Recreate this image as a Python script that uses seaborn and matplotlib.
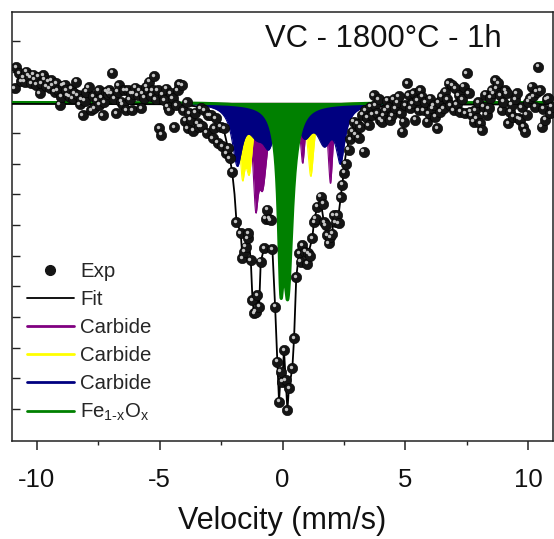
import numpy as np
import matplotlib
matplotlib.use("Agg")
import matplotlib.pyplot as plt
import matplotlib.transforms as mtransforms
from matplotlib.lines import Line2D
from matplotlib.ticker import MultipleLocator, FixedLocator, NullFormatter
import seaborn as sns

# ---------------------------------------------------------------- data
# Measured Mossbauer spectrum (velocity in mm/s, relative transmission)
exp_velocity = [
    -10.89, -10.825, -10.716, -10.62, -10.554, -10.486, -10.419, -10.33, -10.257, -10.216,
    -10.15, -10.081, -10.01, -9.946, -9.878, -9.81, -9.743, -9.675, -9.60, -9.54,
    -9.472, -9.405, -9.337, -9.269, -9.20, -9.134, -9.067, -9.00, -8.931, -8.86,
    -8.80, -8.729, -8.661, -8.59, -8.526, -8.46, -8.39, -8.323, -8.255, -8.19,
    -8.12, -8.05, -7.985, -7.877, -7.782, -7.71, -7.647, -7.55, -7.47, -7.444,
    -7.38, -7.309, -7.24, -7.173, -7.10, -7.038, -6.97, -6.93, -6.85, -6.768,
    -6.70, -6.66, -6.565, -6.497, -6.43, -6.362, -6.295, -6.22, -6.159, -6.119,
    -6.05, -5.983, -5.889, -5.82, -5.754, -5.686, -5.62, -5.551, -5.483, -5.416,
    -5.35, -5.28, -5.213, -5.15, -5.077, -5.01, -4.942, -4.87, -4.807, -4.74,
    -4.672, -4.604, -4.54, -4.469, -4.401, -4.33, -4.266, -4.199, -4.09, -4.036,
    -3.955, -3.89, -3.86, -3.79, -3.725, -3.63, -3.55, -3.455, -3.39, -3.32,
    -3.279, -3.184, -3.09, -3.022, -2.914, -2.846, -2.78, -2.711, -2.64, -2.508,
    -2.45, -2.373, -2.30, -2.197, -2.15, -2.035, -1.872, -1.697, -1.629, -1.562,
    -1.494, -1.42, -1.386, -1.29, -1.223, -1.156, -1.09, -1.02, -0.953, -0.885,
    -0.75, -0.683, -0.615, -0.547, -0.48, -0.412, -0.304, -0.209, -0.142, -0.074,
    -0.006, 0.061, 0.129, 0.196, 0.264, 0.399, 0.467, 0.561, 0.67, 0.74,
    0.805, 0.913, 1.008, 1.048, 1.13, 1.21, 1.278, 1.35, 1.413, 1.549,
    1.643, 1.684, 1.75, 1.819, 1.886, 1.95, 2.022, 2.09, 2.16, 2.225,
    2.29, 2.36, 2.427, 2.50, 2.57, 2.697, 2.76, 2.833, 2.90, 2.97,
    3.04, 3.10, 3.17, 3.24, 3.306, 3.374, 3.44, 3.51, 3.576, 3.64,
    3.712, 3.77, 3.85, 3.92, 3.983, 4.05, 4.118, 4.185, 4.25, 4.32,
    4.388, 4.456, 4.52, 4.591, 4.66, 4.73, 4.80, 4.862, 4.929, 5.00,
    5.064, 5.132, 5.20, 5.267, 5.33, 5.402, 5.47, 5.54, 5.605, 5.673,
    5.741, 5.81, 5.876, 5.943, 6.01, 6.079, 6.15, 6.214, 6.281, 6.35,
    6.417, 6.48, 6.552, 6.62, 6.69, 6.755, 6.82, 6.89, 6.958, 7.025,
    7.09, 7.16, 7.228, 7.30, 7.363, 7.431, 7.498, 7.57, 7.634, 7.701,
    7.769, 7.84, 7.904, 7.97, 8.039, 8.107, 8.175, 8.24, 8.31, 8.378,
    8.445, 8.513, 8.58, 8.648, 8.715, 8.783, 8.851, 8.92, 8.986, 9.05,
    9.121, 9.189, 9.257, 9.324, 9.392, 9.46, 9.527, 9.594, 9.662, 9.73,
    9.797, 9.865, 9.93, 10.0, 10.068, 10.135, 10.20, 10.27, 10.34, 10.406,
    10.473, 10.541, 10.61, 10.676, 10.74, 10.811, 10.88, 10.946,
]
exp_transmission = [
    1.0046, 1.0115, 1.0095, 1.0070, 1.0082, 1.0068, 1.0100, 1.0088, 1.0082, 1.0062,
    1.0090, 1.0075, 1.0058, 1.0084, 1.0030, 1.0062, 1.0089, 1.0075, 1.0052, 1.0068,
    1.0046, 1.0073, 1.0057, 1.0035, 1.0062, 1.0040, 0.9992, 1.0018, 1.0054, 1.0058,
    1.0040, 1.0024, 1.0019, 1.0045, 1.0013, 1.0030, 1.0068, 1.0024, 0.9995, 1.0010,
    0.9959, 1.0005, 1.0035, 1.0049, 0.9975, 1.0020, 0.9981, 1.0008, 1.0040, 0.9992,
    1.0015, 0.9959, 1.0000, 1.0035, 1.0028, 1.0040, 1.0030, 1.0097, 1.0012, 0.9964,
    1.0035, 1.0057, 1.0002, 0.9992, 1.0040, 0.9975, 1.0040, 1.0010, 1.0030, 0.9975,
    1.0028, 1.0048, 1.0024, 1.0040, 0.9981, 1.0030, 1.0015, 1.0051, 1.0040, 1.0068,
    1.0022, 1.0040, 1.0086, 1.0010, 1.0040, 0.9915, 0.9894, 1.0025, 1.0008, 1.0045,
    0.9986, 0.9975, 1.0030, 1.0013, 0.9919, 0.9990, 1.0040, 1.0060, 1.0057, 0.9975,
    0.9940, 1.0000, 0.9915, 0.9965, 0.9943, 0.9908, 0.9966, 0.9932, 0.9921, 0.9981,
    0.9923, 0.9975, 0.9901, 0.9959, 0.9959, 0.9883, 0.9916, 0.9948, 0.9869, 0.9921,
    0.9858, 0.9915, 0.9835, 0.9850, 0.9817, 0.9774, 0.9609, 0.9573, 0.9491, 0.9513,
    0.9529, 0.9556, 0.9573, 0.9486, 0.9355, 0.9312, 0.9317, 0.9370, 0.9333, 0.9480,
    0.9524, 0.9620, 0.9650, 0.9620, 0.9616, 0.9520, 0.9333, 0.9154, 0.9023, 0.9121,
    0.9088, 0.9192, 0.9094, 0.8996, 0.9067, 0.9132, 0.9230, 0.9430, 0.9507, 0.9480,
    0.9534, 0.9513, 0.9474, 0.9507, 0.9500, 0.9556, 0.9610, 0.9620, 0.9659, 0.9692,
    0.9670, 0.9610, 0.9600, 0.9567, 0.9540, 0.9560, 0.9572, 0.9632, 0.9610, 0.9632,
    0.9605, 0.9690, 0.9731, 0.9770, 0.9800, 0.9845, 0.9880, 0.9904, 0.9937, 0.9895,
    0.9930, 0.9885, 0.9920, 0.9960, 0.9839, 0.9975, 0.9950, 0.9925, 0.9986, 0.9960,
    1.0024, 0.9990, 0.9965, 1.0010, 0.9943, 0.9937, 0.9959, 0.9975, 1.0005, 0.9985,
    0.9943, 0.9959, 1.0010, 0.9981, 1.0000, 1.0020, 0.9965, 0.9905, 0.9937, 0.9990,
    1.0062, 1.0024, 0.9981, 0.9997, 1.0030, 0.9943, 1.0008, 0.9975, 1.0040, 1.0019,
    0.9975, 1.0000, 0.9937, 0.9964, 1.0012, 0.9981, 0.9990, 0.9953, 0.9915, 1.0000,
    0.9970, 1.0020, 0.9981, 1.0035, 1.0010, 1.0062, 0.9990, 1.0057, 0.9975, 1.0046,
    0.9995, 1.0024, 0.9970, 1.0010, 1.0051, 0.9964, 1.0095, 1.0030, 0.9970, 0.9959,
    0.9937, 0.9975, 0.9948, 1.0000, 0.9932, 0.9910, 0.9986, 1.0025, 0.9960, 0.9981,
    1.0015, 1.0040, 1.0030, 1.0073, 1.0045, 1.0062, 1.0024, 0.9975, 1.0002, 1.0040,
    1.0030, 0.9932, 0.9970, 0.9992, 0.9953, 1.0010, 1.0030, 0.9948, 0.9943, 0.9985,
    0.9921, 0.9905, 0.9960, 1.0002, 1.0013, 1.0051, 1.0020, 0.9986, 1.0035, 1.0117,
    1.0040, 0.9921, 0.9980, 0.9943, 1.0010, 1.0013, 0.9965, 0.9986,
]

# Total fitted envelope
fit_velocity = [
    -11.0, -4.5, -3.6, -3.0, -2.65, -2.4, -2.2, -2.05, -1.95, -1.87,
    -1.83, -1.70, -1.63, -1.56, -1.49, -1.39, -1.29, -1.22, -1.16, -1.09,
    -1.02, -0.95, -0.885, -0.75, -0.58, -0.41, -0.30, -0.21, -0.14, -0.07,
    -0.01, 0.06, 0.13, 0.20, 0.26, 0.40, 0.47, 0.56, 0.67, 0.80,
    0.91, 1.01, 1.05, 1.21, 1.28, 1.41, 1.55, 1.68, 1.82, 1.89,
    2.02, 2.09, 2.22, 2.29, 2.43, 2.56, 2.70, 2.90, 3.24, 3.64,
    4.3, 11.0,
]
fit_transmission = [
    0.9995, 0.9994, 0.9988, 0.9975, 0.9950, 0.9915, 0.9845, 0.9775, 0.9700, 0.9609,
    0.9605, 0.9573, 0.9495, 0.9513, 0.9529, 0.9560, 0.9486, 0.9355, 0.9312, 0.9317,
    0.9370, 0.9333, 0.9480, 0.9524, 0.9530, 0.9520, 0.9333, 0.9154, 0.9023, 0.9121,
    0.9088, 0.9192, 0.9094, 0.8996, 0.9067, 0.9132, 0.9230, 0.9430, 0.9507, 0.9534,
    0.9513, 0.9474, 0.9507, 0.9556, 0.9610, 0.9659, 0.9680, 0.9610, 0.9567, 0.9540,
    0.9572, 0.9632, 0.9632, 0.9640, 0.9731, 0.9823, 0.9877, 0.9920, 0.9960, 0.9982,
    0.9992, 0.9994,
]

# Subspectra: Lorentzian absorption lines (position mm/s, depth, half width mm/s)
carbide1_pos = [-1.09, -0.80, 0.82, 1.95]
carbide1_depth = [0.027, 0.024, 0.019, 0.026]
carbide1_hw = [0.13, 0.22, 0.12, 0.12]

carbide2_pos = [-1.63, -1.35, 1.15]
carbide2_depth = [0.020, 0.020, 0.024]
carbide2_hw = [0.13, 0.17, 0.16]

carbide3_pos = [-1.84, -1.05, -0.55, 0.90, 1.70, 2.36]
carbide3_depth = [0.0185, 0.0075, 0.011, 0.009, 0.011, 0.017]
carbide3_hw = [0.25, 0.40, 0.30, 0.35, 0.35, 0.22]

oxide_pos = [-0.07, 0.22]
oxide_depth = [0.042, 0.058]
oxide_hw = [0.12, 0.22]

legend_labels = ["Exp", "Fit", "Carbide", "Carbide", "Carbide", r"Fe$_{1\text{-}x}$O$_x$"]
title_text = "VC - 1800°C - 1h"
x_ticks = [-10, -5, 0, 5, 10]
baseline = 1.0

# ---------------------------------------------------------------- style
sns.set_style("ticks")
plt.rcParams["font.family"] = ["Liberation Sans", "DejaVu Sans"]
plt.rcParams["mathtext.fontset"] = "custom"
plt.rcParams["mathtext.rm"] = "Liberation Sans"
plt.rcParams["mathtext.it"] = "Liberation Sans"
plt.rcParams["mathtext.bf"] = "Liberation Sans"
plt.rcParams["axes.unicode_minus"] = False

W, H = 554, 539
fig = plt.figure(figsize=(W / 100, H / 100), dpi=100)
ax = fig.add_axes([12 / W, 98 / H, 541 / W, 429 / H])


def subspectrum(v, pos, depth, hw):
    absorb = np.zeros_like(v)
    for c, d, g in zip(pos, depth, hw):
        absorb += d * g ** 2 / ((v - c) ** 2 + g ** 2)
    return baseline - absorb


v = np.linspace(-11, 11, 4401)
components = [
    (carbide1_pos, carbide1_depth, carbide1_hw, "#800080", 1),
    (carbide2_pos, carbide2_depth, carbide2_hw, "#FFFF00", 2),
    (carbide3_pos, carbide3_depth, carbide3_hw, "#000080", 3),
    (oxide_pos, oxide_depth, oxide_hw, "#008000", 4),
]
for pos, depth, hw, col, z in components:
    curve = subspectrum(v, pos, depth, hw)
    ax.fill_between(v, baseline, curve, color=col, lw=0, zorder=z)
    lw = 2.2 if col == "#008000" else 0.8
    sns.lineplot(x=v, y=curve, color=col, lw=lw, ax=ax, zorder=z,
                 estimator=None, sort=False)

# fitted envelope
sns.lineplot(x=fit_velocity, y=fit_transmission, color="black", lw=1.3,
             ax=ax, zorder=5, estimator=None, sort=False)

# experimental points drawn as shaded spheres
sns.scatterplot(x=exp_velocity, y=exp_transmission, s=56, color="#151515",
                edgecolor="#000000", linewidth=0.4, ax=ax, zorder=6, legend=False)
hl = mtransforms.offset_copy(ax.transData, fig=fig, x=-1.4, y=1.4, units="dots")
sns.scatterplot(x=exp_velocity, y=exp_transmission, s=6, color="#d8d8d8",
                linewidth=0, ax=ax, zorder=7, legend=False, transform=hl, alpha=0.9)

# ---------------------------------------------------------------- axes
ax.set_xlim(-11, 11)
ax.set_ylim(0.8895, 1.0295)
ax.set_xticks(x_ticks)
ax.xaxis.set_minor_locator(MultipleLocator(2.5))
ax.yaxis.set_major_locator(FixedLocator([0.90 + 0.01 * i for i in range(13)]))
ax.yaxis.set_major_formatter(NullFormatter())
ax.tick_params(axis="x", which="major", direction="out", length=6.8, width=1.1,
               labelsize=18.5, pad=12.5, colors="#222222", labelcolor="#111111")
ax.tick_params(axis="x", which="minor", direction="out", length=3, width=1.0,
               colors="#222222")
ax.tick_params(axis="y", which="major", direction="in", length=5.8, width=1.0,
               colors="#222222")
for sp in ax.spines.values():
    sp.set_linewidth(1.1)
    sp.set_color("#222222")
    sp.set_visible(True)
ax.set_xlabel("Velocity (mm/s)", fontsize=22, labelpad=10, color="#111111")
ax.set_ylabel("")

ax.text((265 - 12) / 541, (441 - 47) / 429, title_text, transform=ax.transAxes,
        fontsize=22.3, ha="left", va="baseline", color="#111111")

handles = [
    Line2D([], [], ls="none", marker="o", markersize=7, color="#151515"),
    Line2D([], [], color="black", lw=1.3),
    Line2D([], [], color="#800080", lw=2.0),
    Line2D([], [], color="#FFFF00", lw=2.0),
    Line2D([], [], color="#000080", lw=2.0),
    Line2D([], [], color="#008000", lw=2.0),
]
ax.legend(handles, legend_labels, loc="upper left",
          bbox_to_anchor=((27 - 12) / 541, (441 - 262) / 429),
          frameon=False, fontsize=14.7, handlelength=2.3, handletextpad=0.3,
          labelspacing=0.44, borderpad=0, borderaxespad=0)

fig.savefig("out.png", dpi=100)
